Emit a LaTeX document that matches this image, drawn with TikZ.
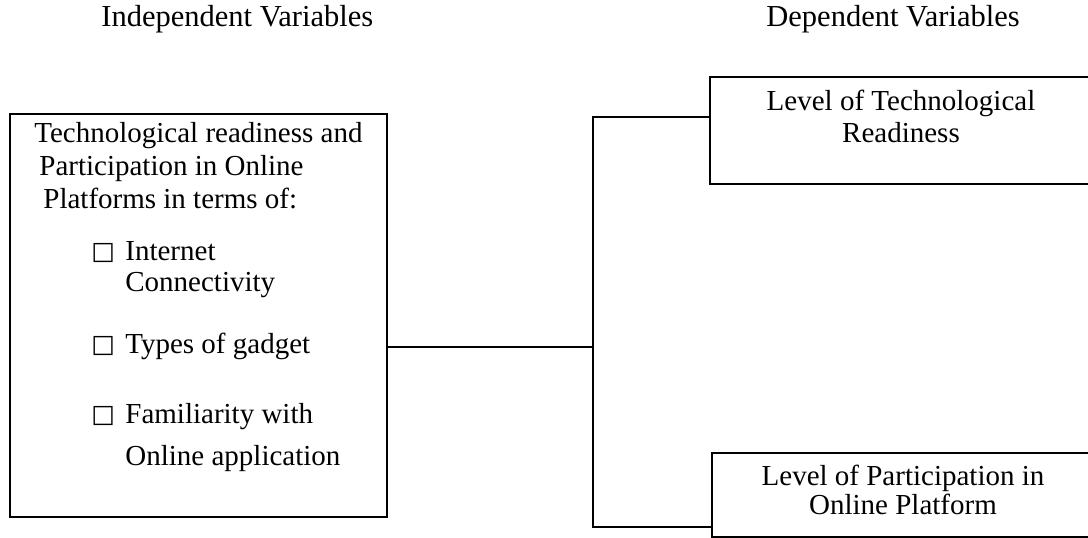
\documentclass[tikz,border=0pt]{standalone}
\usepackage{fontspec}
\setmainfont{Liberation Serif}
\newfontfamily\symfont{DejaVu Sans}
\usepackage{tikz}
\usetikzlibrary{positioning}

\begin{document}
\begin{tikzpicture}[x=1pt, y=-1pt, line width=2.8pt, font=\fontsize{29}{33}\selectfont,
	varbox/.style={draw, rectangle, inner sep=0pt},
	txt/.style={inner sep=0pt, align=left},
	head/.style={txt, anchor=base west, font=\fontsize{30.5}{34}\selectfont},
	bul/.style={inner sep=0pt, text width=32pt, align=left, anchor=base west, font=\symfont\fontsize{25}{25}\selectfont}]
	\useasboundingbox (0,0) rectangle (1088,538);
	% headings
	\node[head] (indep) at (100,27) {Independent Variables};
	\node[head] (dep) at (765,27) {Dependent Variables};
	% independent variables
	\node[varbox, minimum width=377, minimum height=403] (lbox) at (198.5,315.5) {};
	\node[txt, anchor=north west] (intro) at (33,121) {Technological readiness and\\\hspace*{5pt}Participation in Online\\\hspace*{9pt}Platforms in terms of:};
	\node[bul] (b1) at (90,259) {□};
	\node[txt, anchor=base west] (net) at (124,260) {Internet};
	\node[txt, anchor=base west] (net2) at ([yshift=-31pt]net.base west) {Connectivity};
	\node[bul] (b2) at (90,352) {□};
	\node[txt, anchor=base west] (gadget) at (124,353) {Types of gadget};
	\node[bul] (b3) at (90,422) {□};
	\node[txt, anchor=base west] (fam) at (124,423) {Familiarity with};
	\node[txt, anchor=base west] (fam2) at ([yshift=-42pt]fam.base west) {Online application};
	% dependent variables
	\node[varbox, minimum width=382, minimum height=107] (tbox) at (901,130.5) {};
	\node[txt, align=center, below=13pt of tbox.north, font=\fontsize{29}{32}\selectfont] (ttext) {Level of Technological\\Readiness};
	\node[varbox, minimum width=382, minimum height=84] (bbox) at (903,495) {};
	\node[txt, align=center, below=12pt of bbox.north, font=\fontsize{29}{29}\selectfont] (btext) {Level of Participation in\\Online Platform};
	% connectors
	\coordinate (jmid) at (593,347);
	\coordinate (jtop) at (593,117);
	\coordinate (jbot) at (593,527);
	\draw (lbox.east |- jmid) -- (jmid);
	\draw (tbox.west |- jtop) -- (jtop) -- (jbot) -- (bbox.west |- jbot);
\end{tikzpicture}
\end{document}
